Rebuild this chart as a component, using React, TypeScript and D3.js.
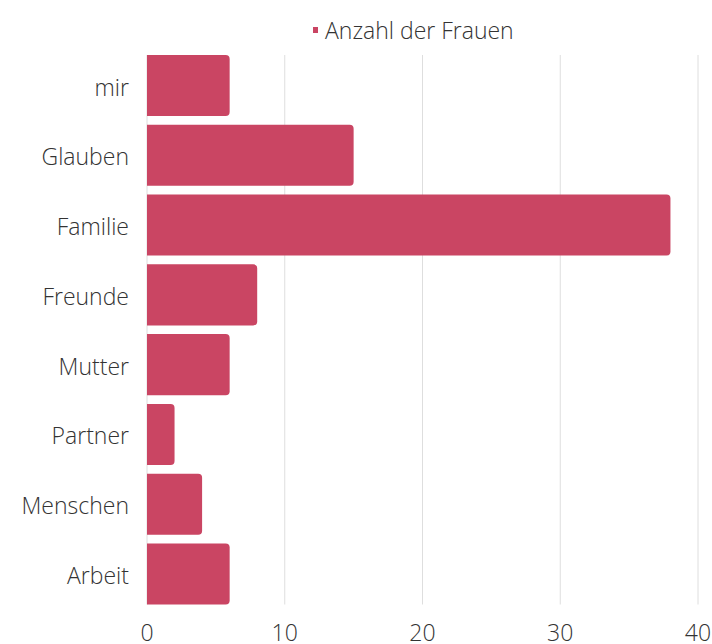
import React from "react";
import * as d3 from "d3";

const categories = ["mir", "Glauben", "Familie", "Freunde", "Mutter", "Partner", "Menschen", "Arbeit"];
const values = [6, 15, 38, 8, 6, 2, 4, 6];
const xTicks = [0, 10, 20, 30, 40];
const seriesName = "Anzahl der Frauen";

const W = 712, H = 644;
const left = 147, right = 698, top = 55, bottom = 604.5;
const color = "#CA4563";
const font = "'Open Sans', sans-serif";

function barPath(x0: number, x1: number, y0: number, h: number, r: number) {
  const rr = Math.min(r, (x1 - x0) / 2, h / 2);
  return `M${x0},${y0} H${x1 - rr} A${rr},${rr} 0 0 1 ${x1},${y0 + rr} V${y0 + h - rr} A${rr},${rr} 0 0 1 ${x1 - rr},${y0 + h} H${x0} Z`;
}

export default function App() {
  const x = d3.scaleLinear().domain([0, 40]).range([left, right]);
  const y = d3.scaleBand().domain(categories).range([top, bottom]).paddingInner(0.125).paddingOuter(0);
  return (
    <svg width={W} height={H} style={{ position: "absolute", left: 0, top: 0 }} fontFamily={font}>
      {xTicks.map((t) => (
        <line key={t} x1={x(t)} x2={x(t)} y1={top} y2={bottom} stroke="#dedede" strokeWidth={1} />
      ))}
      {categories.map((c, i) => (
        <path key={c} d={barPath(x(0), x(values[i]), y(c)!, y.bandwidth(), 4)} fill={color} />
      ))}
      {categories.map((c) => (
        <text key={c} x={129} y={y(c)! + y.bandwidth() / 2 + 1} textAnchor="end" dominantBaseline="central" fontSize={23} fontWeight={300} fill="#333">
          {c}
        </text>
      ))}
      {xTicks.map((t) => (
        <text key={t} x={x(t)} y={632} textAnchor="middle" dominantBaseline="central" fontSize={23} fontWeight={300} fill="#333">
          {t}
        </text>
      ))}
      <rect x={313} y={27} width={5} height={6} fill={color} />
      <text x={325} y={30} dominantBaseline="central" fontSize={23} fontWeight={300} fill="#333">
        {seriesName}
      </text>
    </svg>
  );
}
